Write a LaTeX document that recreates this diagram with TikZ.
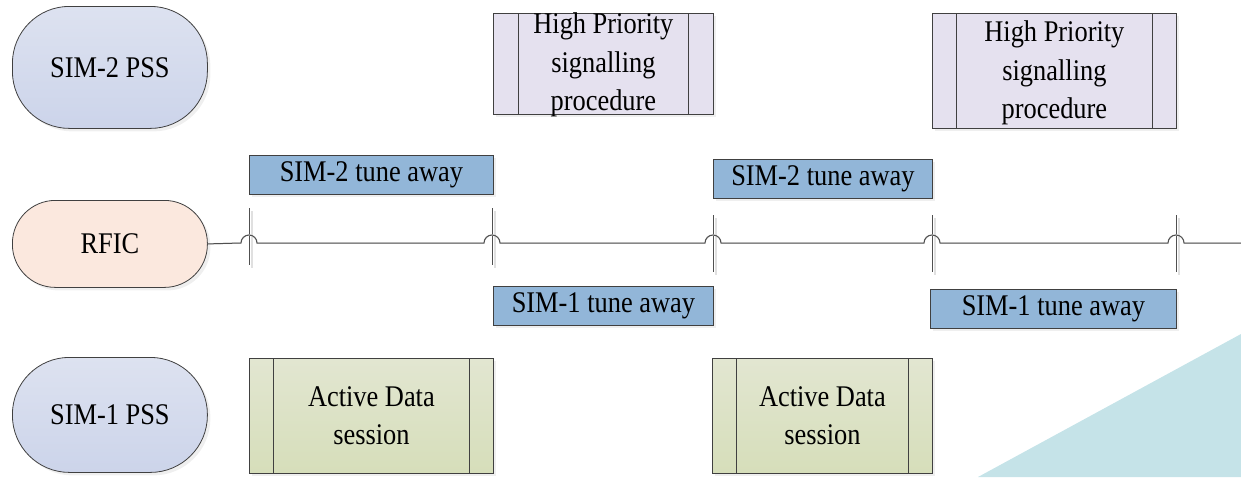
\documentclass[tikz,border=0pt]{standalone}
\usepackage{fontspec}
\setmainfont{Liberation Serif}[FakeStretch=0.88]
\usetikzlibrary{shadows}
\definecolor{pssTop}{HTML}{DDE2F0}
\definecolor{pssBot}{HTML}{CCD4EA}
\definecolor{rficFill}{HTML}{FBE8DE}
\definecolor{tuneFill}{HTML}{92B6D8}
\definecolor{hpFill}{HTML}{E5E1EF}
\definecolor{adTop}{HTML}{E2E6D1}
\definecolor{adBot}{HTML}{D6DEBA}
\definecolor{tealFill}{HTML}{C5E3E8}
\definecolor{lineCol}{HTML}{505050}
\tikzset{
  base/.style={draw=black!75, line width=0.8pt, inner sep=0pt, anchor=north west,
    drop shadow={shadow xshift=3pt, shadow yshift=-3pt, fill=black!12}},
  lbl/.style={font=\fontsize{30}{38.5}\selectfont, align=center},
  pss/.style={base, lbl, rounded corners=57pt, minimum width=195pt,
    top color=pssTop, bottom color=pssBot},
  rficbox/.style={base, lbl, rounded corners=43pt, minimum width=195pt, minimum height=87pt,
    fill=rficFill},
  tune/.style={base, lbl, fill=tuneFill, minimum height=39pt},
  hp/.style={base, fill=hpFill},
  ad/.style={base, lbl, top color=adTop, bottom color=adBot, minimum height=115pt},
  inner/.style={draw=black!75, line width=0.8pt},
  tl/.style={draw=lineCol, line width=1pt},
  tlshadow/.style={draw=black!12, line width=1.4pt},
}
\begin{document}
\begin{tikzpicture}[x=1pt,y=-1pt]
\useasboundingbox (0,0) rectangle (1241,477);
% teal corner
\fill[tealFill] (978,477) -- (1241,334) -- (1241,477) -- cycle;

% left column
\node[pss, minimum height=122pt] (sim2) at (12,6) {SIM-2 PSS};
\node[rficbox] (rfic) at (12,200) {RFIC};
\node[pss, minimum height=115pt] (sim1) at (12,357) {SIM-1 PSS};

% time markers
\coordinate (t1) at (249,243);
\coordinate (t2) at (492,243);
\coordinate (t3) at (713,243);
\coordinate (t4) at (932,243);
\coordinate (t5) at (1176,243);
\coordinate (tend) at (1241,243);

% ticks (shadows then lines)
\foreach \c/\a/\b in {t1/35/-22, t2/35/-22, t3/28/-29, t4/28/-29, t5/28/-29}{
  \draw[tlshadow] ([xshift=3pt,yshift=\a pt-3pt]\c) -- ([xshift=3pt,yshift=\b pt-3pt]\c);
  \draw[tl] ([yshift=\a pt]\c) -- ([yshift=\b pt]\c);
}

% timeline with hops
\draw[tlshadow, yshift=-3pt, xshift=2pt] (rfic.east) -- ([xshift=-8pt]t1) arc[start angle=180,end angle=0,radius=8pt]
  -- ([xshift=-8pt]t2) arc[start angle=180,end angle=0,radius=8pt]
  -- ([xshift=-8pt]t3) arc[start angle=180,end angle=0,radius=8pt]
  -- ([xshift=-8pt]t4) arc[start angle=180,end angle=0,radius=8pt]
  -- ([xshift=-8pt]t5) arc[start angle=180,end angle=0,radius=8pt]
  -- (tend);
\draw[tl] (rfic.east) -- ([xshift=-8pt]t1) arc[start angle=180,end angle=0,radius=8pt]
  -- ([xshift=-8pt]t2) arc[start angle=180,end angle=0,radius=8pt]
  -- ([xshift=-8pt]t3) arc[start angle=180,end angle=0,radius=8pt]
  -- ([xshift=-8pt]t4) arc[start angle=180,end angle=0,radius=8pt]
  -- ([xshift=-8pt]t5) arc[start angle=180,end angle=0,radius=8pt]
  -- (tend);

% tune away boxes
\node[tune, minimum width=244pt] (s2a) at (249,155) {SIM-2 tune away};
\node[tune, minimum width=219pt] (s2b) at (713,159) {SIM-2 tune away};
\node[tune, minimum width=220pt] (s1a) at (493,286) {SIM-1 tune away};
\node[tune, minimum width=246pt] (s1b) at (930,289) {SIM-1 tune away};

% high priority boxes
\node[hp, minimum width=220pt, minimum height=101pt] (hp1) at (493,13) {};
\node[lbl] (hp1t) at ([yshift=-1pt]hp1.center) {High Priority\\signalling\\procedure};
\draw[inner] ([xshift=25pt]hp1.north west) -- ([xshift=25pt]hp1.south west);
\draw[inner] ([xshift=-25pt]hp1.north east) -- ([xshift=-25pt]hp1.south east);
\node[hp, minimum width=244pt, minimum height=115pt] (hp2) at (932,13) {};
\node[lbl] (hp2t) at ([yshift=-2pt]hp2.center) {High Priority\\signalling\\procedure};
\draw[inner] ([xshift=24pt]hp2.north west) -- ([xshift=24pt]hp2.south west);
\draw[inner] ([xshift=-24pt]hp2.north east) -- ([xshift=-24pt]hp2.south east);

% active data boxes
\node[ad, minimum width=244pt] (ad1) at (249,358) {Active Data\\session};
\draw[inner] ([xshift=24pt]ad1.north west) -- ([xshift=24pt]ad1.south west);
\draw[inner] ([xshift=-24pt]ad1.north east) -- ([xshift=-24pt]ad1.south east);
\node[ad, minimum width=220pt] (ad2) at (712,358) {Active Data\\session};
\draw[inner] ([xshift=24pt]ad2.north west) -- ([xshift=24pt]ad2.south west);
\draw[inner] ([xshift=-24pt]ad2.north east) -- ([xshift=-24pt]ad2.south east);
\end{tikzpicture}
\end{document}
